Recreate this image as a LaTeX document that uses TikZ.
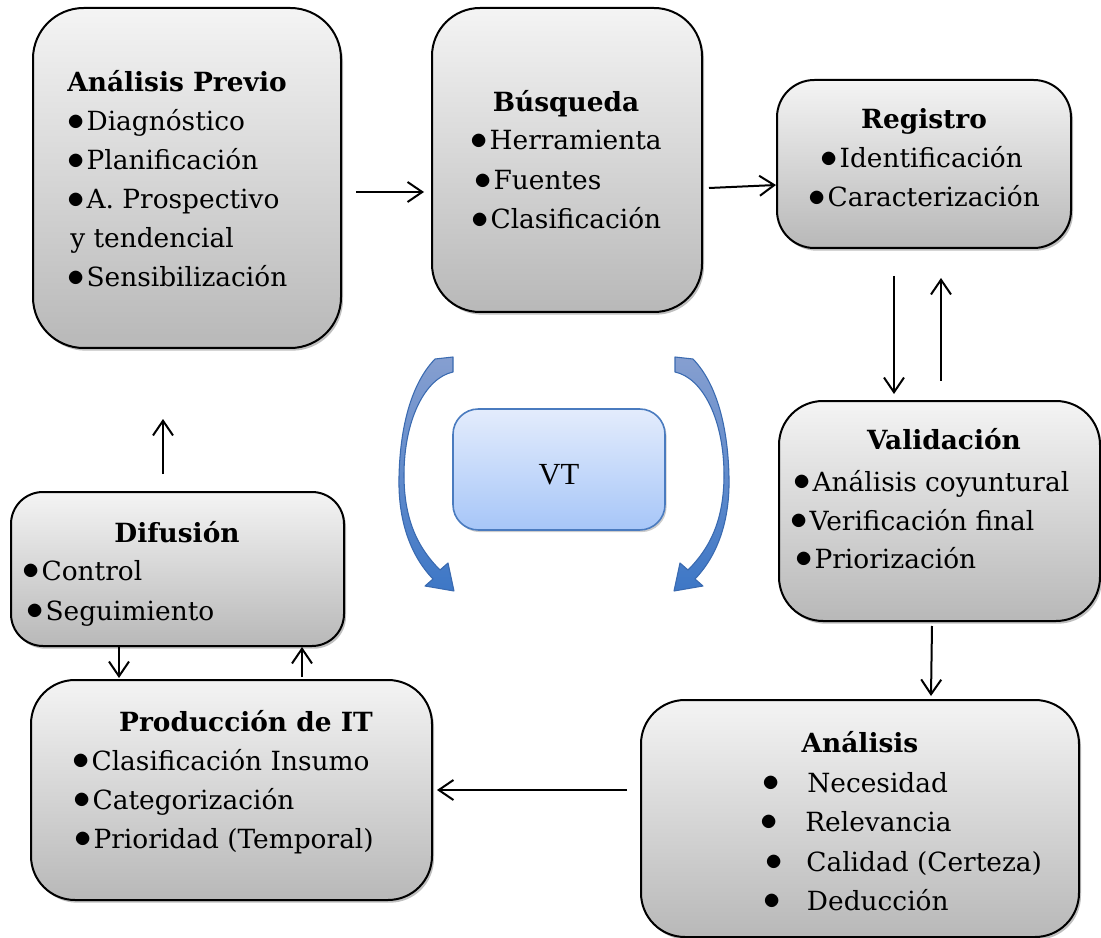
\documentclass[tikz,border=0pt]{standalone}
\usepackage{fontspec}
\setmainfont{DejaVu Serif}
\newfontfamily\vtfont{Liberation Serif}
\usetikzlibrary{calc,shadows,arrows.meta}
\definecolor{gtop}{HTML}{F4F4F4}
\definecolor{gbot}{HTML}{B8B8B8}
\definecolor{vttop}{HTML}{E3ECFC}
\definecolor{vtbot}{HTML}{A7C6F8}
\definecolor{vtdraw}{HTML}{4A7BBF}
\definecolor{btop}{HTML}{869FD0}
\definecolor{bbot}{HTML}{3D77C6}
\definecolor{bdraw}{HTML}{3A6AB0}
\newcommand\bl[1][14.5pt]{\makebox[#1][l]{\raisebox{0.6pt}{\scalebox{1.25}{$\bullet$}}}}
\tikzset{
  box/.style={draw=black, line width=1.5pt, shade, top color=gtop, bottom color=gbot,
    inner sep=0pt, drop shadow={shadow xshift=1.5pt, shadow yshift=-2pt, opacity=0.25, fill=black}},
  vtbox/.style={draw=vtdraw, line width=1.2pt, shade, top color=vttop, bottom color=vtbot,
    inner sep=0pt, rounded corners=19pt, drop shadow={shadow xshift=1.2pt, shadow yshift=-1.6pt, opacity=0.2, fill=black}},
  txt/.style={inner sep=0pt, anchor=base west, font=\fontsize{19.8}{24}\selectfont},
  ttl/.style={inner sep=0pt, anchor=base, font=\bfseries\fontsize{19.8}{24}\selectfont},
  arr/.style={line width=1.5pt, -{Straight Barb[length=11pt,width=15pt,line width=1.5pt]}},
  barrow/.style={shade, top color=btop, bottom color=bbot, draw=bdraw, line width=0.8pt, line join=round}
}
\begin{document}
\begin{tikzpicture}[x=0.75pt,y=-0.75pt]
\useasboundingbox (0,0) rectangle (1101,938);

% boxes
\node[box, rounded corners=38pt, minimum width=231pt, minimum height=255pt] (prev) at (187,178) {};
\node[box, rounded corners=36pt, minimum width=202.5pt, minimum height=228pt] (busq) at (567,160) {};
\node[box, rounded corners=28pt, minimum width=220.5pt, minimum height=126pt] (reg) at (924,164) {};
\node[box, rounded corners=33pt, minimum width=240.75pt, minimum height=165pt] (val) at (939.5,511) {};
\node[box, rounded corners=33pt, minimum width=328.5pt, minimum height=177.75pt] (ana) at (860,818.5) {};
\node[box, rounded corners=33pt, minimum width=300.75pt, minimum height=165pt] (prod) at (231.5,790) {};
\node[box, rounded corners=24pt, minimum width=249.75pt, minimum height=115.5pt] (dif) at (177.5,569) {};
\node[vtbox, minimum width=159pt, minimum height=90.75pt] (vt) at (559,469.5) {};

% texts: Análisis Previo
\node[ttl] (t1) at (177,92) {Análisis Previo};
\node[txt] (t1a) at (67,131) {\bl Diagnóstico};
\node[txt] (t1b) at (67,170) {\bl Planificación};
\node[txt] (t1c) at (67,209) {\bl A. Prospectivo};
\node[txt] (t1d) at (70,248) {y tendencial};
\node[txt] (t1e) at (67,287) {\bl Sensibilización};

% Búsqueda
\node[ttl] (t2) at (566,112) {Búsqueda};
\node[txt] (t2a) at (470,150) {\bl Herramienta};
\node[txt] (t2b) at (474,190) {\bl Fuentes};
\node[txt] (t2c) at (471,229) {\bl Clasificación};

% Registro
\node[ttl] (t3) at (924,129) {Registro};
\node[txt] (t3a) at (820,168) {\bl Identificación};
\node[txt] (t3b) at (808,207) {\bl Caracterización};

% Validación
\node[ttl] (t4) at (944,450) {Validación};
\node[txt] (t4a) at (793,491) {\bl Análisis coyuntural};
\node[txt] (t4b) at (790,530) {\bl Verificación final};
\node[txt] (t4c) at (795,568) {\bl Priorización};

% Análisis
\node[ttl] (t5) at (860,752) {Análisis};
\node[txt] (t5a) at (762,792) {\bl[27.5pt] Necesidad};
\node[txt] (t5b) at (760,831) {\bl[27.5pt] Relevancia};
\node[txt] (t5c) at (765,871) {\bl[24.5pt] Calidad (Certeza)};
\node[txt] (t5d) at (763,910) {\bl[26.5pt] Deducción};

% Producción de IT
\node[ttl] (t6) at (246,731) {Producción de IT};
\node[txt] (t6a) at (72,770) {\bl Clasificación Insumo};
\node[txt] (t6b) at (73,809) {\bl Categorización};
\node[txt] (t6c) at (74,848) {\bl Prioridad (Temporal)};

% Difusión
\node[ttl] (t7) at (177,542) {Difusión};
\node[txt] (t7a) at (22,580) {\bl Control};
\node[txt] (t7b) at (26,620) {\bl Seguimiento};

% VT
\node[inner sep=0pt, anchor=base, font=\vtfont\fontsize{23}{26}\selectfont] (vtt) at (559,484) {VT};

% connectors
\draw[arr] ($(prev.east)+(14,14)$) -- ($(busq.west)+(-7,32)$);
\draw[arr] ($(busq.east)+(6,28)$) -- ($(reg.west)+(0,21)$);
\draw[arr] ($(reg.south)+(-30,27)$) -- ($(val.north)+(-45.5,-6)$);
\draw[arr] ($(val.north)+(1.5,-19)$) -- ($(reg.south)+(17,29)$);
\draw[arr] ($(val.south)+(-7.5,4)$) -- ($(ana.north)+(71,-3)$);
\draw[arr] ($(ana.west)+(-13,-28.5)$) -- ($(prod.east)+(4,0)$);
\draw[arr] ($(dif.south)+(-58.5,0)$) -- ($(prod.north)+(-112.5,-1)$);
\draw[arr] ($(prod.north)+(70.5,-2)$) -- ($(dif.south)+(124.5,0)$);
\draw[arr] ($(dif.north)+(-14.5,-17)$) -- ($(prev.south)+(-24,70)$);

% blue curved arrows
\path[barrow] (435,359) -- (453,357) -- (453,372)
  .. controls (425,378) and (404,420) .. (404,475)
  .. controls (404,520) and (418,548) .. (440,570)
  -- (448,563) -- (454,591) -- (425,586) -- (433,579)
  .. controls (410,555) and (398,520) .. (399,477)
  .. controls (400,430) and (410,385) .. (435,359) -- cycle;
\path[barrow] (693,359) -- (675,357) -- (675,372)
  .. controls (703,378) and (724,420) .. (724,475)
  .. controls (724,520) and (710,548) .. (688,570)
  -- (680,563) -- (674,591) -- (703,586) -- (695,579)
  .. controls (718,555) and (730,520) .. (729,477)
  .. controls (728,430) and (718,385) .. (693,359) -- cycle;
\end{tikzpicture}
\end{document}
